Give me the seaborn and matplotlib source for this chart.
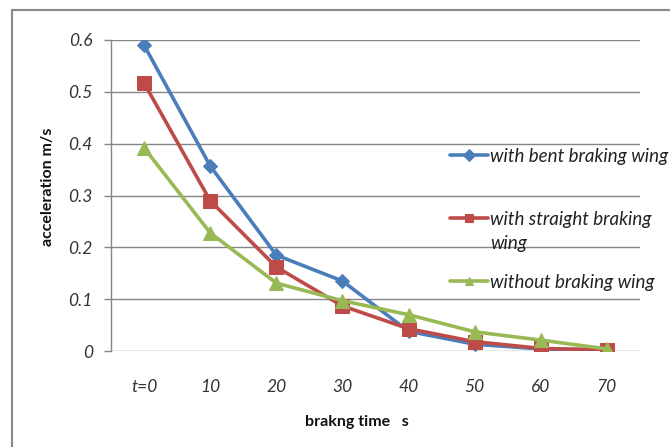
import matplotlib
matplotlib.use("Agg")
import matplotlib.pyplot as plt
import matplotlib.patches as mpatches
from matplotlib.text import Annotation
import seaborn as sns
import pandas as pd

categories = ["t=0", "10", "20", "30", "40", "50", "60", "70"]
bent = [0.590, 0.357, 0.185, 0.135, 0.038, 0.013, 0.004, 0.002]
straight = [0.517, 0.290, 0.162, 0.087, 0.043, 0.018, 0.005, 0.002]
without = [0.392, 0.228, 0.131, 0.097, 0.070, 0.037, 0.021, 0.004]
series_names = ["with bent braking wing", "with straight braking", "without braking wing"]
label_overflow = "wing"
y_ticks = [0, 0.1, 0.2, 0.3, 0.4, 0.5, 0.6]
y_ticklabels = ["0", "0.1", "0.2", "0.3", "0.4", "0.5", "0.6"]

sns.set_theme(style="white")
plt.rcParams['font.family'] = ['Lato', 'DejaVu Sans']

rows = []
for name, vals in zip(series_names, [bent, straight, without]):
    for i, (c, v) in enumerate(zip(categories, vals)):
        rows.append({"pos": i, "cat": c, "value": v, "series": name})
df = pd.DataFrame(rows)

fig = plt.figure(figsize=(6.7, 4.47), dpi=100)
ax = fig.add_axes([111/670, 1-351/447, (640-111)/670, (351-40)/447])

palette = {series_names[0]: "#4A7EBB", series_names[1]: "#BE4B48", series_names[2]: "#98B954"}
markers = {series_names[0]: "D", series_names[1]: "s", series_names[2]: "^"}
sizes = {series_names[0]: 7.5, series_names[1]: 10, series_names[2]: 10}

for name in series_names:
    sub = df[df.series == name]
    sns.lineplot(data=sub, x="pos", y="value", ax=ax, color=palette[name],
                 marker=markers[name], markersize=sizes[name], markeredgecolor=palette[name],
                 linewidth=2.6, label=name, zorder=3)

ax.set_xlim(-0.5, len(categories) - 0.5)
ax.set_ylim(0, 0.6)
ax.set_yticks(y_ticks)
ax.set_yticklabels(y_ticklabels, fontsize=12.5, style="italic", color="#333333")
ax.set_xticks(range(len(categories)))
ax.set_xticklabels(categories, fontsize=12.5, style="italic", color="#333333")
ax.tick_params(axis="x", length=0, pad=20)
ax.tick_params(axis="y", length=5, width=1, color="#868686", direction="out", pad=8, left=True)
ax.yaxis.grid(True, color="#868686", linewidth=1)
ax.xaxis.grid(False)
for s in ["top", "right", "bottom"]:
    ax.spines[s].set_visible(False)
ax.spines["left"].set_color("#868686")
ax.spines["left"].set_linewidth(1)

ax.set_ylabel("acceleration m/s", fontsize=11.5, fontweight="bold", color="#111111", labelpad=10)
ax.yaxis.label.set_y(0.527)
ax.set_xlabel("brakng time   s", fontsize=11.5, fontweight="bold", color="#111111")
ax.xaxis.set_label_coords(0.465, -0.205)

leg = ax.legend(loc="upper left", bbox_to_anchor=(450/670, 1-148/447), bbox_transform=fig.transFigure,
                frameon=False, handlelength=2.0, handletextpad=0.15, borderaxespad=0,
                labelspacing=2.45, borderpad=0, prop={"style": "italic", "size": 13.5})
for t in leg.get_texts():
    t.set_color("#222222")
for h in leg.legend_handles:
    h.set_markersize(6)
    h.set_linewidth(2.6)

ann = Annotation(label_overflow, xy=(0, 0), xycoords=leg.get_texts()[1], xytext=(0, -17.5),
                 textcoords="offset points", fontsize=13.5, style="italic", color="#222222",
                 ha="left", va="bottom", zorder=10)
fig.add_artist(ann)

fig.patches.append(mpatches.Rectangle((12/670, -0.1), 1.2, 1.1 - 10/447, transform=fig.transFigure,
                                      fill=False, edgecolor="#898989", linewidth=1.5))

fig.savefig("out.png", dpi=100, facecolor="white")
